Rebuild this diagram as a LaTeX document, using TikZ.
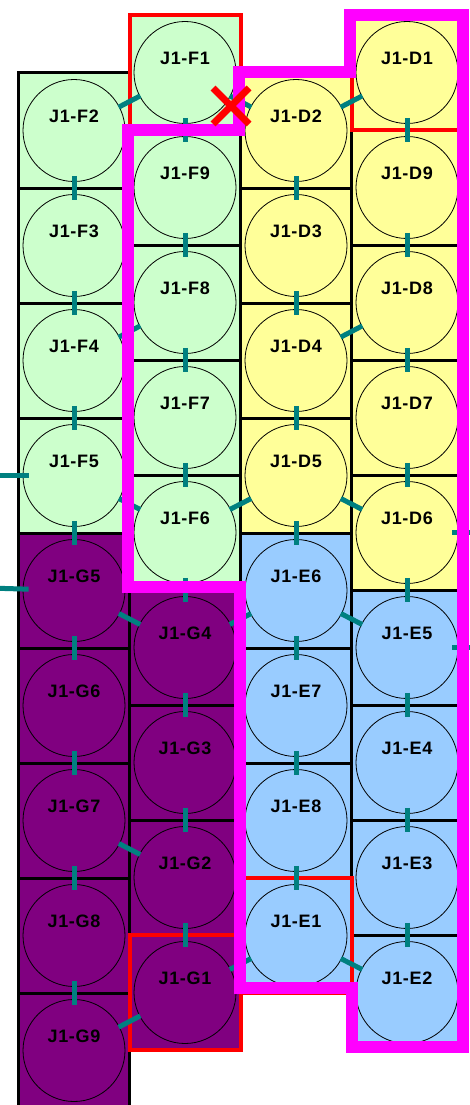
\documentclass[tikz,border=0pt]{standalone}
\usepackage{fontspec}
\setmainfont{Liberation Sans}
\usepackage{tikz}

\definecolor{fgreen}{HTML}{CCFFCC}
\definecolor{dyellow}{HTML}{FFFF99}
\definecolor{eblue}{HTML}{99CCFF}
\definecolor{gpurple}{HTML}{800080}
\definecolor{wireteal}{HTML}{008080}
\definecolor{zonepink}{HTML}{FF00FF}

\begin{document}
\begin{tikzpicture}[x=1pt, y=-1pt,
  cell/.style={draw=black, line width=3pt},
  hold/.style={draw=red, line width=4pt},
  contact/.style={circle, draw=black, line width=0.8pt, minimum size=102pt, inner sep=0pt},
  every label/.style={font=\fontsize{18}{20}\selectfont\bfseries\addfontfeature{LetterSpace=4}, yshift=14pt, inner sep=0pt},
  wire/.style={draw=wireteal, line width=5pt, shorten <=-6pt, shorten >=-6pt},
  jump/.style={draw=wireteal, line width=5pt, shorten <=-1pt, shorten >=-1pt}]
  \useasboundingbox (0,0) rectangle (470,1105);
  \clip (0,0) rectangle (470,1105);
  % column F2..G9
  \filldraw[cell, fill=fgreen] (18.5,73) rectangle (129.5,188);
  \filldraw[cell, fill=fgreen] (18.5,188) rectangle (129.5,303);
  \filldraw[cell, fill=fgreen] (18.5,303) rectangle (129.5,418);
  \filldraw[cell, fill=fgreen] (18.5,418) rectangle (129.5,533);
  \filldraw[cell, fill=gpurple] (18.5,533) rectangle (129.5,648);
  \filldraw[cell, fill=gpurple] (18.5,648) rectangle (129.5,763);
  \filldraw[cell, fill=gpurple] (18.5,763) rectangle (129.5,878);
  \filldraw[cell, fill=gpurple] (18.5,878) rectangle (129.5,993);
  \filldraw[cell, fill=gpurple] (18.5,993) rectangle (129.5,1110);
  % column F1..G1
  \filldraw[cell, fill=fgreen] (129.5,15) rectangle (240.5,130);
  \filldraw[cell, fill=fgreen] (129.5,130) rectangle (240.5,245);
  \filldraw[cell, fill=fgreen] (129.5,245) rectangle (240.5,360);
  \filldraw[cell, fill=fgreen] (129.5,360) rectangle (240.5,475);
  \filldraw[cell, fill=fgreen] (129.5,475) rectangle (240.5,590);
  \filldraw[cell, fill=gpurple] (129.5,590) rectangle (240.5,705);
  \filldraw[cell, fill=gpurple] (129.5,705) rectangle (240.5,820);
  \filldraw[cell, fill=gpurple] (129.5,820) rectangle (240.5,935);
  \filldraw[cell, fill=gpurple] (129.5,935) rectangle (240.5,1050);
  % column D2..E1
  \filldraw[cell, fill=dyellow] (240.5,73) rectangle (351.5,188);
  \filldraw[cell, fill=dyellow] (240.5,188) rectangle (351.5,303);
  \filldraw[cell, fill=dyellow] (240.5,303) rectangle (351.5,418);
  \filldraw[cell, fill=dyellow] (240.5,418) rectangle (351.5,533);
  \filldraw[cell, fill=eblue] (240.5,533) rectangle (351.5,648);
  \filldraw[cell, fill=eblue] (240.5,648) rectangle (351.5,763);
  \filldraw[cell, fill=eblue] (240.5,763) rectangle (351.5,878);
  \filldraw[cell, fill=eblue] (240.5,878) rectangle (351.5,993);
  % column D1..E2
  \filldraw[cell, fill=dyellow] (351.5,15) rectangle (462.5,130);
  \filldraw[cell, fill=dyellow] (351.5,130) rectangle (462.5,245);
  \filldraw[cell, fill=dyellow] (351.5,245) rectangle (462.5,360);
  \filldraw[cell, fill=dyellow] (351.5,360) rectangle (462.5,475);
  \filldraw[cell, fill=dyellow] (351.5,475) rectangle (462.5,590);
  \filldraw[cell, fill=eblue] (351.5,590) rectangle (462.5,705);
  \filldraw[cell, fill=eblue] (351.5,705) rectangle (462.5,820);
  \filldraw[cell, fill=eblue] (351.5,820) rectangle (462.5,935);
  \filldraw[cell, fill=eblue] (351.5,935) rectangle (462.5,1050);
  % red boxes
  \draw[hold] (129.5,15) rectangle (240.5,130);
  \draw[hold] (351.5,15) rectangle (462.5,130);
  \draw[hold] (129.5,935) rectangle (240.5,1050);
  \draw[hold] (240.5,878) rectangle (351.5,993);

  \node[contact, label=center:J1-F2] (F2) at (74,130.5) {};
  \node[contact, label=center:J1-F3] (F3) at (74,245.5) {};
  \node[contact, label=center:J1-F4] (F4) at (74,360.5) {};
  \node[contact, label=center:J1-F5] (F5) at (74,475.5) {};
  \node[contact, label=center:J1-G5] (G5) at (74,590.5) {};
  \node[contact, label=center:J1-G6] (G6) at (74,705.5) {};
  \node[contact, label=center:J1-G7] (G7) at (74,820.5) {};
  \node[contact, label=center:J1-G8] (G8) at (74,935.5) {};
  \node[contact, label=center:J1-G9] (G9) at (74,1050.5) {};

  \node[contact, label=center:J1-F1] (F1) at (185,72.5) {};
  \node[contact, label=center:J1-F9] (F9) at (185,187.5) {};
  \node[contact, label=center:J1-F8] (F8) at (185,302.5) {};
  \node[contact, label=center:J1-F7] (F7) at (185,417.5) {};
  \node[contact, label=center:J1-F6] (F6) at (185,532.5) {};
  \node[contact, label=center:J1-G4] (G4) at (185,647.5) {};
  \node[contact, label=center:J1-G3] (G3) at (185,762.5) {};
  \node[contact, label=center:J1-G2] (G2) at (185,877.5) {};
  \node[contact, label=center:J1-G1] (G1) at (185,992.5) {};

  \node[contact, label=center:J1-D2] (D2) at (296,130.5) {};
  \node[contact, label=center:J1-D3] (D3) at (296,245.5) {};
  \node[contact, label=center:J1-D4] (D4) at (296,360.5) {};
  \node[contact, label=center:J1-D5] (D5) at (296,475.5) {};
  \node[contact, label=center:J1-E6] (E6) at (296,590.5) {};
  \node[contact, label=center:J1-E7] (E7) at (296,705.5) {};
  \node[contact, label=center:J1-E8] (E8) at (296,820.5) {};
  \node[contact, label=center:J1-E1] (E1) at (296,935.5) {};

  \node[contact, label=center:J1-D1] (D1) at (407,72.5) {};
  \node[contact, label=center:J1-D9] (D9) at (407,187.5) {};
  \node[contact, label=center:J1-D8] (D8) at (407,302.5) {};
  \node[contact, label=center:J1-D7] (D7) at (407,417.5) {};
  \node[contact, label=center:J1-D6] (D6) at (407,532.5) {};
  \node[contact, label=center:J1-E5] (E5) at (407,647.5) {};
  \node[contact, label=center:J1-E4] (E4) at (407,762.5) {};
  \node[contact, label=center:J1-E3] (E3) at (407,877.5) {};
  \node[contact, label=center:J1-E2] (E2) at (407,992.5) {};

  \coordinate (F5out) at (5,475.5);
  \coordinate (G5out) at (5,588.5);
  \coordinate (D6out) at (478,532.5);
  \coordinate (E5out) at (478,647.5);

  % straight runs
  \draw[wire] (F2) -- (F3);
  \draw[wire] (F3) -- (F4);
  \draw[wire] (F4) -- (F5);
  \draw[wire] (F5) -- (G5);
  \draw[wire] (G5) -- (G6);
  \draw[wire] (G6) -- (G7);
  \draw[wire] (G7) -- (G8);
  \draw[wire] (G8) -- (G9);
  \draw[wire] (F1) -- (F9);
  \draw[wire] (F9) -- (F8);
  \draw[wire] (F8) -- (F7);
  \draw[wire] (F7) -- (F6);
  \draw[wire] (F6) -- (G4);
  \draw[wire] (G4) -- (G3);
  \draw[wire] (G3) -- (G2);
  \draw[wire] (G2) -- (G1);
  \draw[wire] (D2) -- (D3);
  \draw[wire] (D3) -- (D4);
  \draw[wire] (D4) -- (D5);
  \draw[wire] (D5) -- (E6);
  \draw[wire] (E6) -- (E7);
  \draw[wire] (E7) -- (E8);
  \draw[wire] (E8) -- (E1);
  \draw[wire] (D1) -- (D9);
  \draw[wire] (D9) -- (D8);
  \draw[wire] (D8) -- (D7);
  \draw[wire] (D7) -- (D6);
  \draw[wire] (D6) -- (E5);
  \draw[wire] (E5) -- (E4);
  \draw[wire] (E4) -- (E3);
  \draw[wire] (E3) -- (E2);
  % cross-overs
  \draw[jump] (F2) -- (F1);
  \draw[jump] (F4) -- (F8);
  \draw[jump] (F5) -- (F6);
  \draw[jump] (G5) -- (G4);
  \draw[jump] (G7) -- (G2);
  \draw[jump] (G9) -- (G1);
  \draw[jump] (F1) -- (D2);
  \draw[jump] (F6) -- (D5);
  \draw[jump] (G4) -- (E6);
  \draw[jump] (G1) -- (E1);
  \draw[jump] (D2) -- (D1);
  \draw[jump] (D4) -- (D8);
  \draw[jump] (D5) -- (D6);
  \draw[jump] (E6) -- (E5);
  \draw[jump] (E1) -- (E2);
  \draw[wire] (F5out) -- (F5);
  \draw[wire] (G5out) -- (G5);
  \draw[wire] (D6) -- (D6out);
  \draw[wire] (E5) -- (E5out);

  % pink zone
  \draw[zonepink, line width=12pt, line join=miter]
    (128,130) -- (239,130) -- (239,72) -- (350,72) -- (350,15) -- (463,15)
    -- (463,1047) -- (352,1047) -- (352,988) -- (240,988) -- (240,587)
    -- (128,587) -- cycle;
  % cut
  \draw[red, line width=7pt] (213,88) -- (249,124);
  \draw[red, line width=7pt] (213,124) -- (249,88);
\end{tikzpicture}
\end{document}
